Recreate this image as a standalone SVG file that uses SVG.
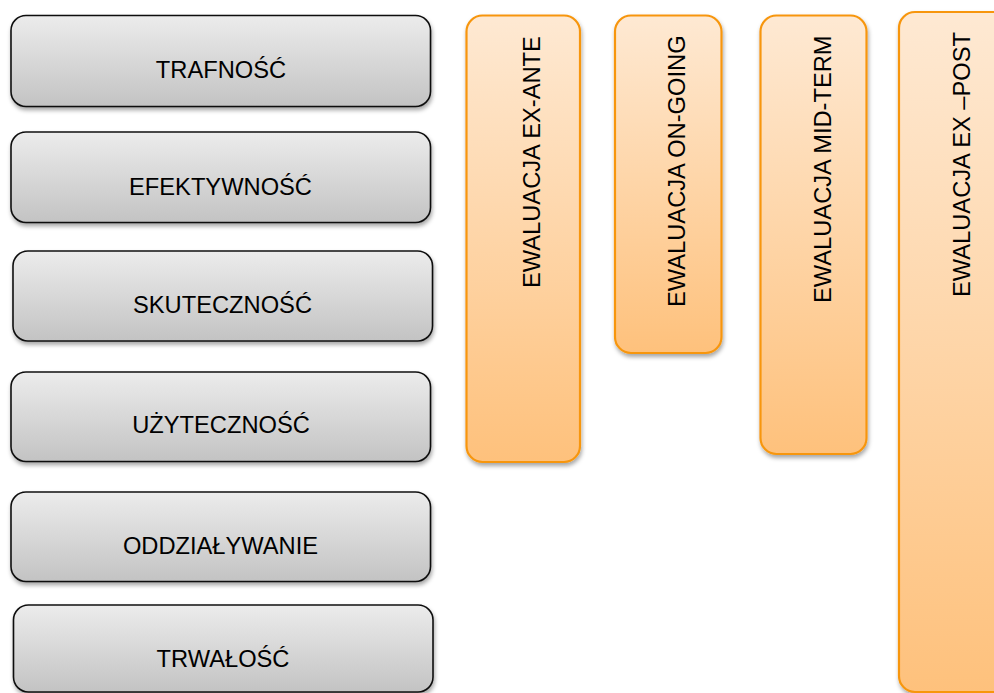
<svg xmlns="http://www.w3.org/2000/svg" width="994" height="693" viewBox="0 0 994 693">
<defs>
<linearGradient id="gGray" x1="0" y1="0" x2="0" y2="1">
<stop offset="0" stop-color="#ececec"/>
<stop offset="1" stop-color="#c3c3c3"/>
</linearGradient>
<linearGradient id="gOrange" x1="0" y1="0" x2="0" y2="1">
<stop offset="0" stop-color="#fee9d3"/>
<stop offset="1" stop-color="#fec17c"/>
</linearGradient>
<filter id="shadow" x="-10%" y="-10%" width="130%" height="130%">
<feDropShadow dx="1" dy="3" stdDeviation="2" flood-color="#000" flood-opacity="0.35"/>
</filter>
</defs>
<style>
.gray{fill:url(#gGray);stroke:#111;stroke-width:1.6;filter:url(#shadow)}
.orange{fill:url(#gOrange);stroke:#f7960f;stroke-width:2.2;filter:url(#shadow)}
text{font-family:"Liberation Sans",Arial,sans-serif;font-size:23.7px;fill:#000}
.c{text-anchor:middle}
</style>
<rect width="994" height="693" fill="#fff"/>
<g id="trafnosc"><rect class="gray" x="11" y="15.5" width="419.5" height="91" rx="15"/><text class="c" x="221" y="78">TRAFNOŚĆ</text></g>
<g id="efektywnosc"><rect class="gray" x="11" y="132" width="419.5" height="90.5" rx="15"/><text class="c" x="220.5" y="195">EFEKTYWNOŚĆ</text></g>
<g id="skutecznosc"><rect class="gray" x="13" y="251" width="419.5" height="90" rx="15"/><text class="c" x="222.5" y="313">SKUTECZNOŚĆ</text></g>
<g id="uzytecznosc"><rect class="gray" x="11" y="372" width="419.5" height="89.5" rx="15"/><text class="c" x="221" y="433">UŻYTECZNOŚĆ</text></g>
<g id="oddzialywanie"><rect class="gray" x="11" y="492" width="419.5" height="89.5" rx="15"/><text class="c" x="220.5" y="554">ODDZIAŁYWANIE</text></g>
<g id="trwalosc"><rect class="gray" x="13.5" y="605" width="419.5" height="87" rx="15"/><text class="c" x="223" y="667">TRWAŁOŚĆ</text></g>
<g id="ex-ante"><rect class="orange" x="466.5" y="15.5" width="113.5" height="446.5" rx="16"/><text transform="translate(540 288) rotate(-90)">EWALUACJA EX-ANTE</text></g>
<g id="on-going"><rect class="orange" x="615" y="15.5" width="106.5" height="337.5" rx="16"/><text transform="translate(685 307) rotate(-90)">EWALUACJA ON-GOING</text></g>
<g id="mid-term"><rect class="orange" x="760.5" y="15.5" width="106" height="438.5" rx="16"/><text transform="translate(830.5 303) rotate(-90)">EWALUACJA MID-TERM</text></g>
<g id="ex-post"><rect class="orange" x="899" y="12" width="120" height="680" rx="16"/><text transform="translate(969.5 297) rotate(-90)">EWALUACJA EX –POST</text></g>
</svg>
